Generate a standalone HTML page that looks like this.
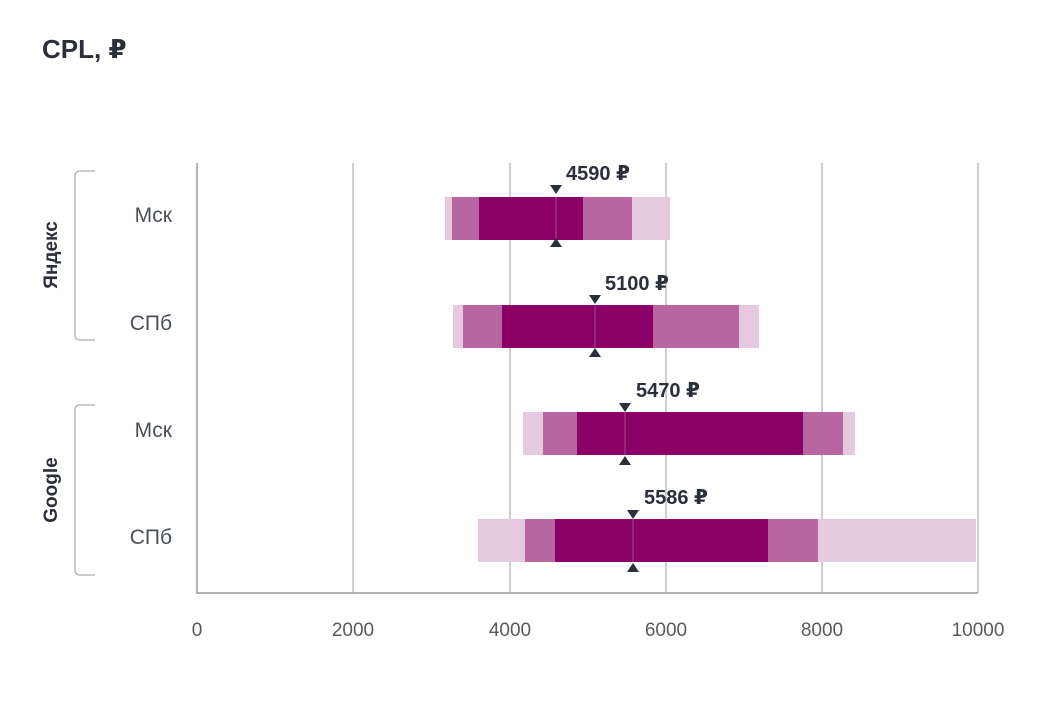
<!DOCTYPE html>
<html><head><meta charset="utf-8"><style>
body{margin:0;background:#fff;}
svg{display:block;font-family:"Liberation Sans","DejaVu Sans",sans-serif;}
</style></head><body>
<svg width="1046" height="728" viewBox="0 0 1046 728">
<text x="42" y="58" font-size="26" font-weight="bold" fill="#2b2f3a">CPL, ₽</text>
<g stroke="#bdbdbd" stroke-width="1.5">
<line x1="353" y1="163" x2="353" y2="593"/><line x1="510" y1="163" x2="510" y2="593"/>
<line x1="666" y1="163" x2="666" y2="593"/><line x1="822" y1="163" x2="822" y2="593"/>
<line x1="978" y1="163" x2="978" y2="593"/>
</g>
<line x1="197" y1="163" x2="197" y2="594" stroke="#999" stroke-width="1.5"/>
<line x1="197" y1="593" x2="978" y2="593" stroke="#999" stroke-width="1.5"/>
<g font-size="19" fill="#5a5a5a" text-anchor="middle">
<text x="197" y="636">0</text><text x="353" y="636">2000</text><text x="510" y="636">4000</text>
<text x="666" y="636">6000</text><text x="822" y="636">8000</text><text x="978" y="636">10000</text>
</g>
<g font-size="21" fill="#4a4f5a" text-anchor="end">
<text x="172" y="222">Мск</text><text x="172" y="330">СПб</text>
<text x="172" y="437">Мск</text><text x="172" y="544">СПб</text>
</g>
<g fill="none" stroke="#bbb" stroke-width="1.5">
<path d="M95 171 H80 Q75 171 75 176 V335 Q75 340 80 340 H95"/>
<path d="M95 405 H80 Q75 405 75 410 V570 Q75 575 80 575 H95"/>
</g>
<g font-size="19" font-weight="bold" fill="#2b2f3a" text-anchor="middle">
<text transform="translate(57 255) rotate(-90)">Яндекс</text>
<text transform="translate(57 490) rotate(-90)">Google</text>
</g>
<g>
<rect x="445" y="197" width="225" height="43" fill="#e6c9df"/>
<rect x="452" y="197" width="180" height="43" fill="#b866a1"/>
<rect x="479" y="197" width="104" height="43" fill="#8a0066"/>
<rect x="453" y="305" width="306" height="43" fill="#e6c9df"/>
<rect x="463" y="305" width="276" height="43" fill="#b866a1"/>
<rect x="502" y="305" width="151" height="43" fill="#8a0066"/>
<rect x="523" y="412" width="332" height="43" fill="#e6c9df"/>
<rect x="543" y="412" width="300" height="43" fill="#b866a1"/>
<rect x="577" y="412" width="226" height="43" fill="#8a0066"/>
<rect x="478" y="519" width="498" height="43" fill="#e6c9df"/>
<rect x="525" y="519" width="293" height="43" fill="#b866a1"/>
<rect x="555" y="519" width="213" height="43" fill="#8a0066"/>
</g>
<g stroke="#a04d8a" stroke-width="1">
<line x1="556" y1="197" x2="556" y2="240"/><line x1="595" y1="305" x2="595" y2="348"/>
<line x1="625" y1="412" x2="625" y2="455"/><line x1="633" y1="519" x2="633" y2="562"/>
</g>
<g fill="#2b2f3a">
<path d="M550 185h12l-6 9z"/><path d="M550 247h12l-6-9z"/>
<path d="M589 295h12l-6 9z"/><path d="M589 357h12l-6-9z"/>
<path d="M619 403h12l-6 9z"/><path d="M619 465h12l-6-9z"/>
<path d="M627 510h12l-6 9z"/><path d="M627 572h12l-6-9z"/>
</g>
<g font-size="20" font-weight="bold" fill="#2b2f3a">
<text x="566" y="180">4590 ₽</text><text x="605" y="290">5100 ₽</text>
<text x="636" y="397">5470 ₽</text><text x="644" y="504">5586 ₽</text>
</g>
</svg>
</body></html>
